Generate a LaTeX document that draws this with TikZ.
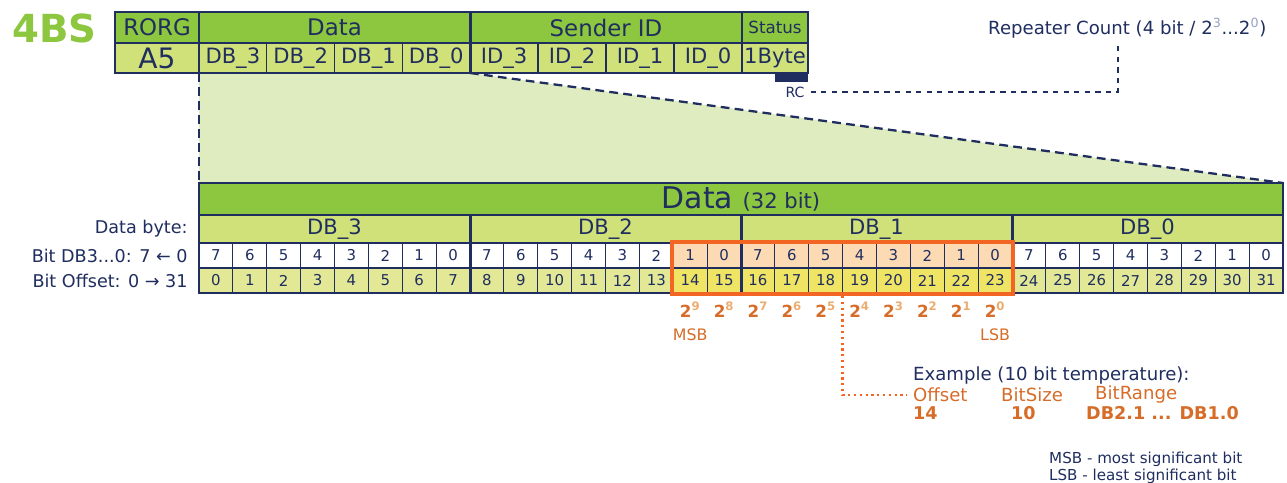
\documentclass[tikz,border=0pt]{standalone}
\usepackage{fontspec}
\setmainfont{DejaVu Sans}
\usetikzlibrary{positioning,fit,backgrounds}
\definecolor{navy}{RGB}{31,45,95}
\definecolor{hdgreen}{RGB}{141,198,63}
\definecolor{subgreen}{RGB}{208,225,122}
\definecolor{offgreen}{RGB}{226,232,150}
\definecolor{trapgreen}{RGB}{222,236,192}
\definecolor{peach}{RGB}{252,218,180}
\definecolor{selyellow}{RGB}{240,228,100}
\definecolor{selorange}{RGB}{242,101,34}
\definecolor{txtorange}{RGB}{214,108,40}
\definecolor{exporange}{RGB}{236,172,112}
\definecolor{expgrey}{RGB}{150,160,195}
\newcommand*{\px}{0.02cm}

\begin{document}
\begin{tikzpicture}[x=0.02cm, y=-0.02cm,
  cell/.style = {draw=navy, line width=0.6pt, inner sep=0pt, outer sep=0pt, text=navy},
  hdcell/.style = {cell, fill=hdgreen, minimum height=31*\px, font=\fontsize{13}{14}\selectfont},
  subcell/.style = {cell, fill=subgreen, minimum height=30*\px, font=\fontsize{12}{13}\selectfont},
  bytecell/.style = {cell, fill=subgreen, minimum width=271*\px, minimum height=28*\px, font=\fontsize{12}{13}\selectfont},
  bitcell/.style = {cell, minimum width=33.875*\px, minimum height=25*\px, font=\fontsize{8.5}{10}\selectfont},
  divider/.style = {navy, line width=1.7pt},
  zoomline/.style = {navy, line width=1.3pt, dash pattern=on 5pt off 3pt},
  label/.style = {text=navy, font=\fontsize{10}{12}\selectfont},
  pow/.style = {text=txtorange, font=\bfseries\fontsize{9.5}{10}\selectfont},
  note/.style = {anchor=west, font=\fontsize{10.3}{12}\selectfont}]
  \useasboundingbox (0,0) rectangle (1287,483);

  \node[anchor=west, text=hdgreen, font=\bfseries\fontsize{22}{24}\selectfont] (title) at (6,28) {4BS};

  \node[hdcell, minimum width=84*\px] (rorg) at (157,27.5) {RORG};
  \node[hdcell, minimum width=271*\px] (data) at (334.5,27.5) {Data};
  \node[hdcell, minimum width=272*\px] (sender) at (606,27.5) {Sender ID};
  \node[hdcell, minimum width=66*\px, font=\fontsize{9.5}{11}\selectfont] (status) at (775,27.5) {Status};
  \node[subcell, minimum width=84*\px, font=\fontsize{16}{17}\selectfont] (a5) at (157,58) {A5};
  \foreach \n [count=\i from 0] in {3,2,1,0}
    \node[subcell, minimum width=67.75*\px] (db\n) at ({199+(\i+0.5)*67.75},58) {DB\_\n};
  \foreach \n [count=\i from 0] in {3,2,1,0}
    \node[subcell, minimum width=68*\px] (id\n) at ({470+(\i+0.5)*68},58) {ID\_\n};
  \node[subcell, minimum width=66*\px] (byte) at (775,58) {1Byte};
  \draw[divider] (rorg.north east) -- (a5.south east);
  \draw[divider] (data.north east) -- (db0.south east);

  \node[fill=navy, inner sep=0pt, minimum width=33*\px, minimum height=9*\px, anchor=north east] (rcbar) at (byte.south east) {};
  \node[text=navy, font=\fontsize{8}{9}\selectfont] (rc) at (795,92) {RC};
  \node[note, text=navy] (rep) at (982,28) {Repeater Count (4 bit / 2\textsuperscript{\textcolor{expgrey}{3}}...2\textsuperscript{\textcolor{expgrey}{0}})};
  \coordinate (repfoot) at (1118,43);
  \draw[navy, dashed, line width=0.9pt] (rc.east) -| (repfoot);

  \node[cell, fill=hdgreen, minimum width=1084*\px, minimum height=32*\px] (data32) at (741,199)
    {\fontsize{17}{18}\selectfont Data \fontsize{12}{13}\selectfont(32 bit)};
  \begin{pgfonlayer}{background}
    \fill[trapgreen] (db3.south west) -- (db0.south east) -- (data32.north east) -- (data32.north west) -- cycle;
  \end{pgfonlayer}
  \draw[zoomline] (db3.south west) -- (data32.north west);
  \draw[zoomline] (db0.south east) -- (data32.north east);

  \foreach \n [count=\i from 0] in {3,2,1,0}
    \node[bytecell] (row\n) at ({199+(\i+0.5)*271},229) {DB\_\n};
  \foreach \i in {0,...,31} {
    \pgfmathtruncatemacro\bitval{7-mod(\i,8)}
    \pgfmathtruncatemacro\issel{and(\i>13,\i<24)}
    \ifnum\issel=1 \def\bitfill{peach}\def\offfill{selyellow}\else\def\bitfill{white}\def\offfill{offgreen}\fi
    \node[bitcell, fill=\bitfill] (b\i) at ({199+(\i+0.5)*33.875},255.5) {\bitval};
    \node[bitcell, fill=\offfill] (o\i) at ({199+(\i+0.5)*33.875},280.5) {\i};
  }
  \draw[divider] (data32.south west) -- (o0.south west);
  \foreach \k in {8,16,24}
    \draw[divider] (b\k.north west |- row3.north) -- (o\k.south west);

  \node[label, left=3pt of row3] (lbyte) {Data byte:};
  \node[label, left=3pt of b0] (lbit) {Bit DB3...0: 7 ← 0};
  \node[label, left=3pt of o0] (loff) {Bit Offset: 0 → 31};

  \node[draw=selorange, line width=2.4pt, inner sep=0.6pt, fit=(b14)(o23)] (sel) {};
  \foreach \e [count=\k from 14] in {9,8,...,0}
    \node[pow] (p\e) at ({199+(\k+0.5)*33.875},310) {2\textsuperscript{\textcolor{exporange}{\e}}};
  \node[text=txtorange, font=\fontsize{9}{10}\selectfont, below=-1pt of p9] (msb) {MSB};
  \node[text=txtorange, font=\fontsize{9}{10}\selectfont, below=-1pt of p0] (lsb) {LSB};

  \node[note, text=navy] (ex) at (907,376) {Example (10 bit temperature):};
  \node[note, text=txtorange] (offs) at (907,395) {Offset};
  \node[note, text=txtorange] (bsize) at (995,395) {BitSize};
  \node[note, text=txtorange] (brange) at (1089,395) {BitRange};
  \node[note, text=txtorange, font=\bfseries\fontsize{10}{12}\selectfont] (v14) at (907,413) {14};
  \node[note, text=txtorange, font=\bfseries\fontsize{10}{12}\selectfont] (v10) at (1005,413) {10};
  \node[note, text=txtorange, font=\bfseries\fontsize{10}{12}\selectfont] (vrange) at (1080,413) {DB2.1 ... DB1.0};
  \draw[selorange, dotted, line width=1.3pt] (sel.south -| b19.west) |- (offs.west);

  \node[note, text=navy, align=left, font=\fontsize{8.6}{9.5}\selectfont] (legend) at (1043,468)
    {MSB - most significant bit\\LSB - least significant bit};
\end{tikzpicture}
\end{document}
